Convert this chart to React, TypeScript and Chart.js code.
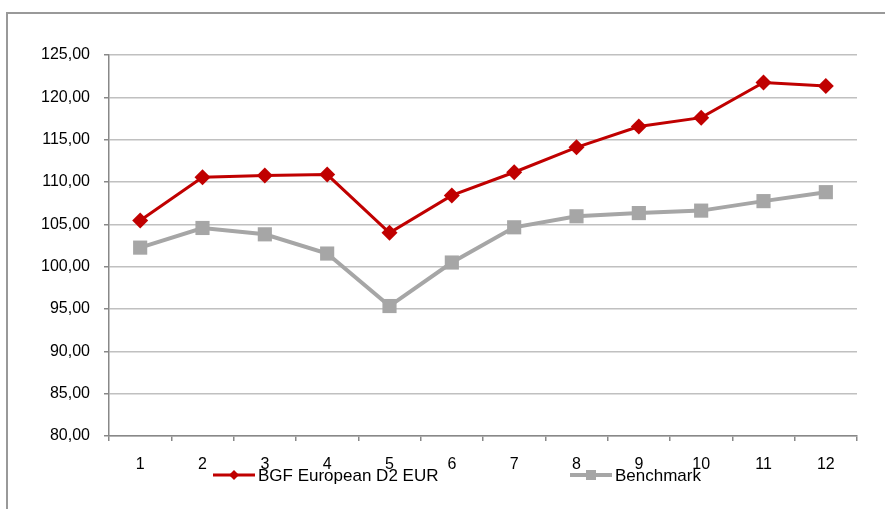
import React, { useEffect, useRef } from "react";
import { Chart, registerables } from "chart.js";

Chart.register(...registerables);

const categories = ["1", "2", "3", "4", "5", "6", "7", "8", "9", "10", "11", "12"];
const fundName = "BGF European D2 EUR";
const benchName = "Benchmark";
const fundValues = [105.45, 110.55, 110.76, 110.88, 104.0, 108.41, 111.15, 114.1, 116.55, 117.6, 121.75, 121.35];
const benchValues = [102.25, 104.57, 103.82, 101.55, 95.35, 100.49, 104.65, 105.95, 106.33, 106.62, 107.74, 108.8];
const yMin = 80;
const yMax = 125;
const yStep = 5;

const RED = "#c00000";
const GREY = "#a6a6a6";
const FONT = "'Liberation Sans', Arial, sans-serif";

const framePlugin = {
  id: "frame",
  beforeDraw(chart: any) {
    const ctx = chart.ctx;
    ctx.save();
    ctx.fillStyle = "#ffffff";
    ctx.fillRect(0, 0, chart.width, chart.height);
    ctx.strokeStyle = "#999999";
    ctx.lineWidth = 2;
    ctx.strokeRect(7, 13, chart.width + 20, chart.height + 20);
    ctx.restore();
  },
};

const legendPlugin = {
  id: "customLegend",
  afterDraw(chart: any) {
    const ctx = chart.ctx;
    ctx.save();
    const y = 475;
    const items = [
      { x: 213, label: fundName, color: RED, style: "diamond", lw: 3 },
      { x: 570, label: benchName, color: GREY, style: "square", lw: 4 },
    ];
    for (const it of items) {
      ctx.strokeStyle = it.color;
      ctx.lineWidth = it.lw;
      ctx.beginPath();
      ctx.moveTo(it.x, y);
      ctx.lineTo(it.x + 42, y);
      ctx.stroke();
      ctx.fillStyle = it.color;
      const cx = it.x + 21;
      if (it.style === "diamond") {
        ctx.beginPath();
        ctx.moveTo(cx - 5, y);
        ctx.lineTo(cx, y - 5);
        ctx.lineTo(cx + 5, y);
        ctx.lineTo(cx, y + 5);
        ctx.closePath();
        ctx.fill();
      } else {
        ctx.fillRect(cx - 5, y - 5, 10, 10);
      }
      ctx.fillStyle = "#000000";
      ctx.font = `17px ${FONT}`;
      ctx.textBaseline = "middle";
      ctx.textAlign = "left";
      ctx.fillText(it.label, it.x + 45, y + 1);
    }
    ctx.restore();
  },
};

export default function App() {
  const ref = useRef<HTMLCanvasElement | null>(null);
  useEffect(() => {
    document.body.style.margin = "0";
    if (!ref.current) return;
    const chart = new Chart(ref.current, {
      type: "line",
      data: {
        labels: categories,
        datasets: [
          {
            label: fundName,
            data: fundValues,
            borderColor: RED,
            backgroundColor: RED,
            borderWidth: 3,
            pointStyle: "rectRot",
            pointRadius: 8,
            pointBorderWidth: 0,
            tension: 0,
          },
          {
            label: benchName,
            data: benchValues,
            borderColor: GREY,
            backgroundColor: GREY,
            borderWidth: 4,
            pointStyle: "rect",
            pointRadius: 10,
            pointBorderWidth: 0,
            tension: 0,
          },
        ],
      },
      options: {
        animation: false,
        responsive: false,
        layout: { padding: { left: 0, right: 28, top: 55, bottom: 0 } },
        plugins: { legend: { display: false }, tooltip: { enabled: false } },
        scales: {
          x: {
            offset: true,
            grid: {
              offset: true,
              drawOnChartArea: false,
              drawTicks: true,
              tickLength: 5,
              color: "#888888",
              lineWidth: 1.5,
            },
            border: { color: "#888888", width: 1.5 },
            ticks: {
              color: "#000000",
              font: { family: FONT, size: 16 },
              padding: 14,
              maxRotation: 0,
            },
            afterFit(s: any) {
              s.height = 73;
            },
          },
          y: {
            min: yMin,
            max: yMax,
            ticks: {
              stepSize: yStep,
              color: "#000000",
              font: { family: FONT, size: 16 },
              padding: 14,
              callback: (v: any) => Number(v).toFixed(2).replace(".", ","),
            },
            grid: {
              color: "#c0c0c0",
              lineWidth: 1.5,
              tickLength: 5,
              tickColor: "#888888",
            },
            border: { color: "#888888", width: 1.5 },
            afterFit(s: any) {
              s.width = 109;
            },
          },
        },
      },
      plugins: [framePlugin, legendPlugin],
    });
    return () => chart.destroy();
  }, []);
  return (
    <div style={{ width: 885, height: 509 }}>
      <canvas ref={ref} width={885} height={509} style={{ display: "block" }} />
    </div>
  );
}
